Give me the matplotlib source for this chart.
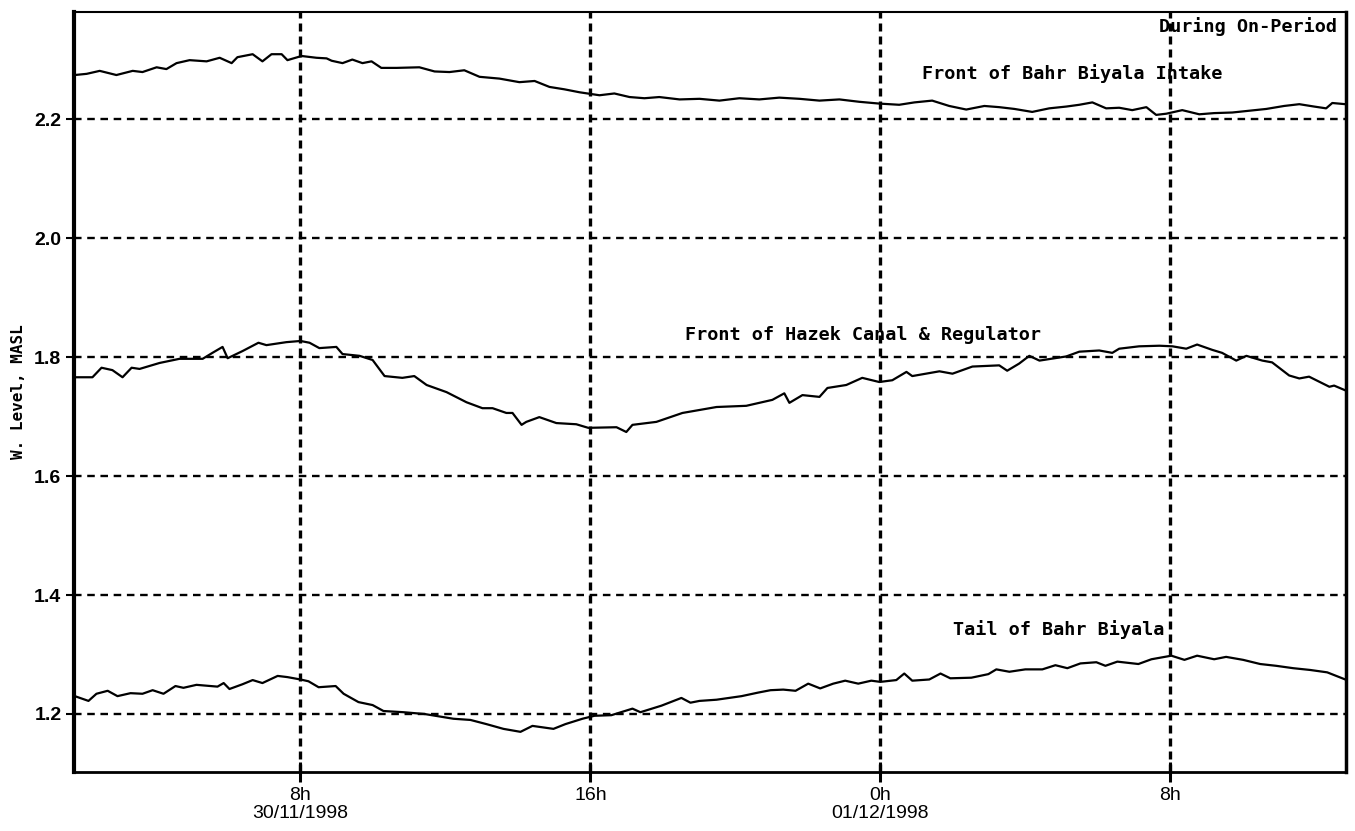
import matplotlib
matplotlib.use("Agg")
import matplotlib.pyplot as plt

# hours counted from 30/11/1998 0h
t_intake = [1.77, 2.10, 2.46, 2.92, 3.37, 3.64, 4.03, 4.30, 4.58, 4.94, 5.41, 5.77, 6.10, 6.26,
            6.68, 6.95, 7.20, 7.48, 7.64, 8.03, 8.44, 8.72, 8.86, 9.16, 9.43, 9.71, 9.96, 10.23,
            10.65, 11.28, 11.70, 12.11, 12.52, 12.94, 13.49, 14.04, 14.46, 14.87, 15.28, 15.70,
            16.25, 16.66, 17.08, 17.49, 17.90, 18.46, 19.01, 19.56, 20.11, 20.66, 21.21, 21.77,
            22.32, 22.87, 23.42, 23.97, 24.52, 24.94, 25.43, 25.90, 26.37, 26.87, 27.28, 27.70,
            28.19, 28.66, 29.13, 29.49, 29.85, 30.23, 30.59, 30.95, 31.34, 31.61, 31.89, 32.33,
            32.80, 33.21, 33.71, 34.18, 34.65, 35.14, 35.56, 35.97, 36.30, 36.47, 36.83]
lvl_intake = [2.274, 2.276, 2.281, 2.274, 2.281, 2.279, 2.287, 2.284, 2.294, 2.299, 2.297, 2.303,
              2.294, 2.304, 2.309, 2.297, 2.309, 2.309, 2.299, 2.306, 2.303, 2.302, 2.298, 2.294,
              2.300, 2.294, 2.297, 2.286, 2.286, 2.287, 2.280, 2.279, 2.282, 2.271, 2.268, 2.262,
              2.264, 2.254, 2.250, 2.245, 2.240, 2.243, 2.237, 2.235, 2.237, 2.233, 2.234, 2.231,
              2.235, 2.233, 2.236, 2.234, 2.231, 2.233, 2.229, 2.226, 2.224, 2.228, 2.231, 2.222,
              2.216, 2.222, 2.220, 2.217, 2.212, 2.218, 2.221, 2.224, 2.228, 2.218, 2.219, 2.215,
              2.220, 2.207, 2.209, 2.215, 2.208, 2.210, 2.211, 2.214, 2.217, 2.222, 2.225, 2.221,
              2.218, 2.227, 2.225]

t_hazek = [1.77, 2.26, 2.51, 2.81, 3.09, 3.34, 3.56, 4.11, 4.66, 5.30, 5.57, 5.85, 5.99, 6.40,
           6.84, 7.06, 7.61, 8.00, 8.25, 8.52, 8.99, 9.16, 9.63, 9.99, 10.32, 10.81, 11.14, 11.48,
           12.03, 12.58, 13.02, 13.30, 13.68, 13.85, 14.10, 14.23, 14.59, 15.06, 15.61, 15.94,
           16.72, 16.99, 17.16, 17.82, 18.54, 19.48, 20.30, 21.02, 21.35, 21.49, 21.85, 22.32,
           22.54, 23.06, 23.50, 23.97, 24.33, 24.72, 24.88, 25.35, 25.63, 25.99, 26.54, 27.28,
           27.50, 27.83, 28.11, 28.39, 29.13, 29.49, 30.04, 30.40, 30.59, 31.14, 31.70, 32.06,
           32.44, 32.74, 33.16, 33.43, 33.82, 34.10, 34.54, 34.81, 35.28, 35.56, 35.83, 36.39,
           36.52, 36.83]
lvl_hazek = [1.766, 1.766, 1.782, 1.778, 1.766, 1.782, 1.780, 1.790, 1.797, 1.797, 1.807, 1.817,
             1.798, 1.810, 1.824, 1.820, 1.825, 1.827, 1.824, 1.815, 1.817, 1.805, 1.802, 1.795,
             1.768, 1.765, 1.768, 1.753, 1.741, 1.724, 1.714, 1.714, 1.706, 1.706, 1.686, 1.691,
             1.699, 1.689, 1.687, 1.681, 1.682, 1.674, 1.686, 1.691, 1.706, 1.716, 1.718, 1.728,
             1.739, 1.723, 1.736, 1.733, 1.748, 1.753, 1.765, 1.758, 1.761, 1.775, 1.768, 1.773,
             1.776, 1.772, 1.784, 1.786, 1.777, 1.789, 1.802, 1.794, 1.801, 1.809, 1.811, 1.807,
             1.814, 1.818, 1.819, 1.818, 1.814, 1.821, 1.812, 1.807, 1.794, 1.802, 1.794, 1.791,
             1.769, 1.764, 1.767, 1.750, 1.752, 1.744]

t_tail = [1.82, 2.15, 2.37, 2.68, 2.95, 3.31, 3.64, 3.92, 4.22, 4.55, 4.77, 5.13, 5.71, 5.88,
          6.04, 6.40, 6.68, 6.95, 7.37, 7.64, 8.00, 8.22, 8.50, 8.97, 9.19, 9.60, 9.99, 10.29,
          10.84, 11.42, 11.72, 12.22, 12.69, 13.13, 13.60, 14.07, 14.40, 14.98, 15.31, 15.78,
          16.11, 16.58, 17.16, 17.38, 17.96, 18.51, 18.76, 19.01, 19.48, 20.17, 20.63, 20.97,
          21.32, 21.66, 22.01, 22.34, 22.70, 23.03, 23.39, 23.75, 24.00, 24.44, 24.66, 24.88,
          25.35, 25.66, 25.93, 26.51, 26.98, 27.20, 27.56, 28.00, 28.47, 28.83, 29.16, 29.52,
          29.96, 30.21, 30.54, 31.12, 31.48, 32.03, 32.39, 32.74, 33.21, 33.54, 34.01, 34.48,
          34.92, 35.39, 35.86, 36.33, 36.83]
lvl_tail = [1.229, 1.222, 1.234, 1.239, 1.230, 1.235, 1.234, 1.240, 1.234, 1.247, 1.244, 1.249,
            1.246, 1.252, 1.242, 1.250, 1.257, 1.252, 1.264, 1.262, 1.258, 1.255, 1.245, 1.247,
            1.234, 1.220, 1.215, 1.205, 1.203, 1.200, 1.197, 1.192, 1.190, 1.183, 1.175, 1.170,
            1.180, 1.175, 1.183, 1.192, 1.197, 1.198, 1.209, 1.203, 1.214, 1.227, 1.219, 1.222,
            1.224, 1.230, 1.236, 1.240, 1.241, 1.239, 1.251, 1.243, 1.251, 1.256, 1.251, 1.256,
            1.254, 1.257, 1.268, 1.256, 1.258, 1.268, 1.260, 1.261, 1.267, 1.275, 1.271, 1.275,
            1.275, 1.282, 1.277, 1.285, 1.287, 1.281, 1.288, 1.284, 1.292, 1.298, 1.291, 1.298,
            1.292, 1.296, 1.291, 1.284, 1.281, 1.277, 1.274, 1.270, 1.258]

x_ticks = [8, 16, 24, 32]
x_ticklabels = ["8h\n30/11/1998", "16h", "0h\n01/12/1998", "8h"]
y_ticks = [1.2, 1.4, 1.6, 1.8, 2.0, 2.2]

mono = "DejaVu Sans Mono"

fig = plt.figure(figsize=(13.55, 8.31), dpi=100)
ax = fig.add_axes([0.0546, 0.071, 0.9388, 0.9146])

for y in y_ticks:
    ax.axhline(y, color="black", lw=1.7, ls=(0, (3.2, 2.4)), zorder=1)
for x in x_ticks:
    ax.axvline(x, color="black", lw=2.4, ls=(0, (2.4, 1.5)), zorder=1)

ax.plot(t_intake, lvl_intake, color="black", lw=1.6, zorder=3)
ax.plot(t_hazek, lvl_hazek, color="black", lw=1.6, zorder=3)
ax.plot(t_tail, lvl_tail, color="black", lw=1.6, zorder=3)

ax.set_xlim(1.75, 36.85)
ax.set_ylim(1.1025, 2.38)

ax.set_xticks(x_ticks)
ax.set_xticklabels(x_ticklabels, fontsize=14, family="Liberation Sans", linespacing=1.05)
ax.set_yticks(y_ticks)
ax.set_yticklabels([f"{v:.1f}" for v in y_ticks], fontsize=14, family="Liberation Sans",
                   fontweight="bold")
ax.tick_params(axis="x", direction="inout", length=14, width=2.2, pad=4)
ax.tick_params(axis="y", direction="out", length=6, width=1.5, pad=3)

ax.spines["left"].set_linewidth(3.0)
ax.spines["bottom"].set_linewidth(2.0)
ax.spines["right"].set_linewidth(2.5)
ax.spines["top"].set_linewidth(1.5)

ax.set_ylabel("W. Level, MASL", family=mono, fontweight="bold", fontsize=11.5)
ax.yaxis.set_label_coords(-0.038, 0.5)

txt = dict(family=mono, fontweight="bold", fontsize=13.3, color="black")
ax.text(0.993, 0.981, "During On-Period", transform=ax.transAxes, ha="right", va="center", **txt)
ax.text(0.667, 0.919, "Front of Bahr Biyala Intake", transform=ax.transAxes, ha="left", va="center", **txt)
ax.text(0.480, 0.575, "Front of Hazek Canal & Regulator", transform=ax.transAxes, ha="left", va="center", **txt)
ax.text(0.691, 0.187, "Tail of Bahr Biyala", transform=ax.transAxes, ha="left", va="center", **txt)

fig.savefig("out.png", dpi=100)
